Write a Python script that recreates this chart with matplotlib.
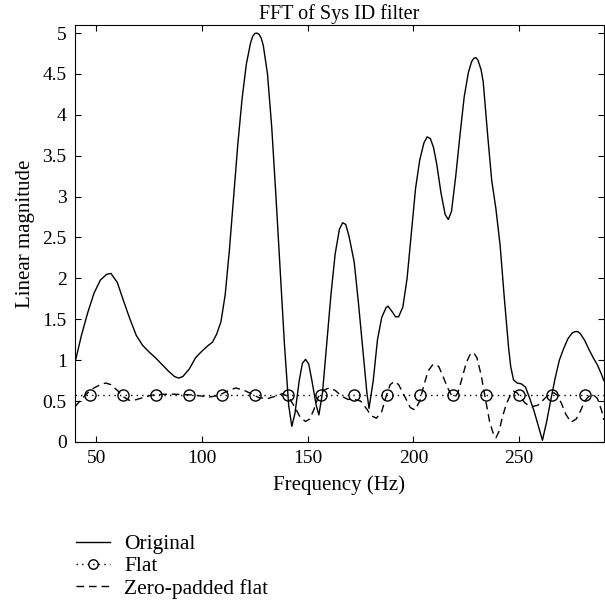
import matplotlib

matplotlib.use("Agg")
import matplotlib.pyplot as plt

# Original filter response (Hz, linear magnitude)
orig_freq = [40, 43, 46, 49, 52, 55, 57, 60, 63, 66, 69, 72, 75, 78, 81, 84, 87, 89,
             91, 94, 97, 100, 103, 105, 107, 109, 111, 113, 115, 117, 119, 121, 123,
             124, 125, 126, 127, 128, 129, 131, 133, 135, 137, 139, 141, 142.5, 144,
             146, 147.5, 149, 150.5, 152, 154, 155.3, 157, 159, 161, 163, 165, 166.5,
             168, 169.5, 172, 174, 176, 178, 179, 181, 183, 185, 187, 188, 190, 191.5,
             193, 195, 197, 199, 201, 203, 205, 206.5, 208, 209.5, 211, 213, 215, 216.5,
             218, 220, 222, 224, 226, 227.5, 228.5, 229.5, 230.5, 232, 233, 235, 237,
             239, 241, 243, 245, 246, 247.3, 249, 251, 253, 255, 257, 259, 261, 263,
             265, 267, 269, 271, 273, 275, 276, 277, 278, 279, 281, 283, 285, 287, 289,
             290]
orig_mag = [0.97, 1.3, 1.58, 1.82, 1.98, 2.05, 2.06, 1.95, 1.72, 1.5, 1.3, 1.18, 1.1,
            1.03, 0.95, 0.87, 0.80, 0.78, 0.80, 0.89, 1.03, 1.11, 1.18, 1.22, 1.32,
            1.47, 1.8, 2.35, 3.0, 3.65, 4.2, 4.62, 4.88, 4.96, 4.995, 5.0, 4.985, 4.94,
            4.85, 4.5, 3.85, 3.0, 2.1, 1.2, 0.45, 0.19, 0.35, 0.75, 0.96, 1.01, 0.95,
            0.75, 0.45, 0.33, 0.6, 1.2, 1.8, 2.3, 2.6, 2.68, 2.66, 2.52, 2.2, 1.7, 1.15,
            0.6, 0.41, 0.75, 1.25, 1.52, 1.64, 1.66, 1.59, 1.53, 1.53, 1.65, 2.0, 2.55,
            3.1, 3.45, 3.66, 3.73, 3.71, 3.6, 3.4, 3.05, 2.78, 2.72, 2.82, 3.25, 3.75,
            4.22, 4.52, 4.65, 4.69, 4.70, 4.67, 4.55, 4.4, 3.78, 3.2, 2.85, 2.4, 1.75,
            1.15, 0.92, 0.76, 0.72, 0.71, 0.67, 0.53, 0.38, 0.2, 0.02, 0.25, 0.52,
            0.78, 1.0, 1.14, 1.26, 1.33, 1.345, 1.35, 1.345, 1.32, 1.24, 1.13, 1.03,
            0.94, 0.82, 0.75]

# Flat response sampled at the FFT bins
flat_freq = [40, 46.875, 62.5, 78.125, 93.75, 109.375, 125, 140.625, 156.25, 171.875,
             187.5, 203.125, 218.75, 234.375, 250, 265.625, 281.25, 290]
flat_mag = [0.57] * len(flat_freq)

# Zero-padded flat response
zp_freq = [40, 43, 46, 49, 52, 54.5, 57, 60, 63, 65.5, 68, 72, 76, 80, 85, 90, 95, 100,
           104, 108, 112, 116, 120, 124, 127, 131, 135, 138, 141, 144, 146.5, 149, 151,
           153, 155, 157.5, 160, 163, 166, 169, 172, 175, 178, 180, 182.5, 185, 187,
           189, 191, 193, 196, 198.5, 200.7, 203, 205, 207, 209, 210.5, 212, 214, 216,
           218, 219.7, 221, 223, 225, 227, 228.5, 230, 232, 234, 236, 238, 239, 240.5,
           242, 244, 246, 247.5, 249, 251, 253, 256, 259, 262, 264.5, 266.5, 268, 270,
           272, 274.5, 277, 279, 281, 283, 285, 287, 289, 290]
zp_mag = [0.43, 0.52, 0.6, 0.66, 0.7, 0.72, 0.70, 0.63, 0.55, 0.51, 0.51, 0.54, 0.57,
          0.58, 0.585, 0.58, 0.575, 0.56, 0.55, 0.57, 0.62, 0.66, 0.63, 0.58, 0.54,
          0.53, 0.56, 0.59, 0.55, 0.42, 0.30, 0.25, 0.28, 0.40, 0.55, 0.63, 0.66, 0.63,
          0.56, 0.52, 0.52, 0.5, 0.4, 0.32, 0.29, 0.37, 0.55, 0.7, 0.74, 0.7, 0.55,
          0.42, 0.39, 0.5, 0.7, 0.87, 0.94, 0.95, 0.92, 0.8, 0.67, 0.57, 0.55, 0.6,
          0.78, 0.97, 1.08, 1.09, 1.03, 0.82, 0.53, 0.25, 0.08, 0.05, 0.13, 0.3, 0.47,
          0.58, 0.62, 0.6, 0.53, 0.47, 0.43, 0.45, 0.53, 0.59, 0.6, 0.57, 0.47, 0.34,
          0.24, 0.28, 0.38, 0.5, 0.56, 0.58, 0.53, 0.38, 0.27]

x_ticks = [50, 100, 150, 200, 250]
y_ticks = [0, 0.5, 1, 1.5, 2, 2.5, 3, 3.5, 4, 4.5, 5]
y_tick_labels = ["0", "0.5", "1", "1.5", "2", "2.5", "3", "3.5", "4", "4.5", "5"]

plt.rcParams["font.family"] = ["Liberation Serif", "DejaVu Serif"]
plt.rcParams["font.size"] = 14

fig = plt.figure(figsize=(6.05, 6.07), dpi=100)
ax = fig.add_axes([0.124, 0.272, 0.874, 0.687])

ax.plot(orig_freq, orig_mag, color="black", lw=1.0, label="Original")
ax.plot(flat_freq, flat_mag, color="black", lw=1.0, dashes=(1, 3),
        marker="o", markersize=8, markerfacecolor="none", markeredgewidth=1.0,
        markevery=list(range(1, len(flat_freq) - 1)), label="Flat")
ax.plot(zp_freq, zp_mag, color="black", lw=1.0, dashes=(5.5, 3.5),
        label="Zero-padded flat")

ax.set_xlim(40, 290)
ax.set_ylim(0, 5.1)
ax.set_xticks(x_ticks)
ax.set_yticks(y_ticks)
ax.set_yticklabels(y_tick_labels)
ax.tick_params(direction="in", length=4, top=True, right=True, width=0.8,
               labelsize=14)
ax.tick_params(axis="y", pad=6)
ax.tick_params(axis="x", pad=6)
for sp in ax.spines.values():
    sp.set_linewidth(0.8)

ax.set_title("FFT of Sys ID filter", fontsize=14.5, pad=4)
ax.set_xlabel("Frequency (Hz)", fontsize=15, labelpad=6)
ax.set_ylabel("Linear magnitude", fontsize=15, labelpad=5)

handles, labels = ax.get_legend_handles_labels()
fig.legend(handles, labels, loc="upper left", bbox_to_anchor=(0.125, 0.12),
           frameon=False, handlelength=1.6, handletextpad=0.65, labelspacing=0.1,
           borderaxespad=0, borderpad=0, fontsize=15.5, markerscale=0.85)

fig.savefig("out.png", dpi=100)
